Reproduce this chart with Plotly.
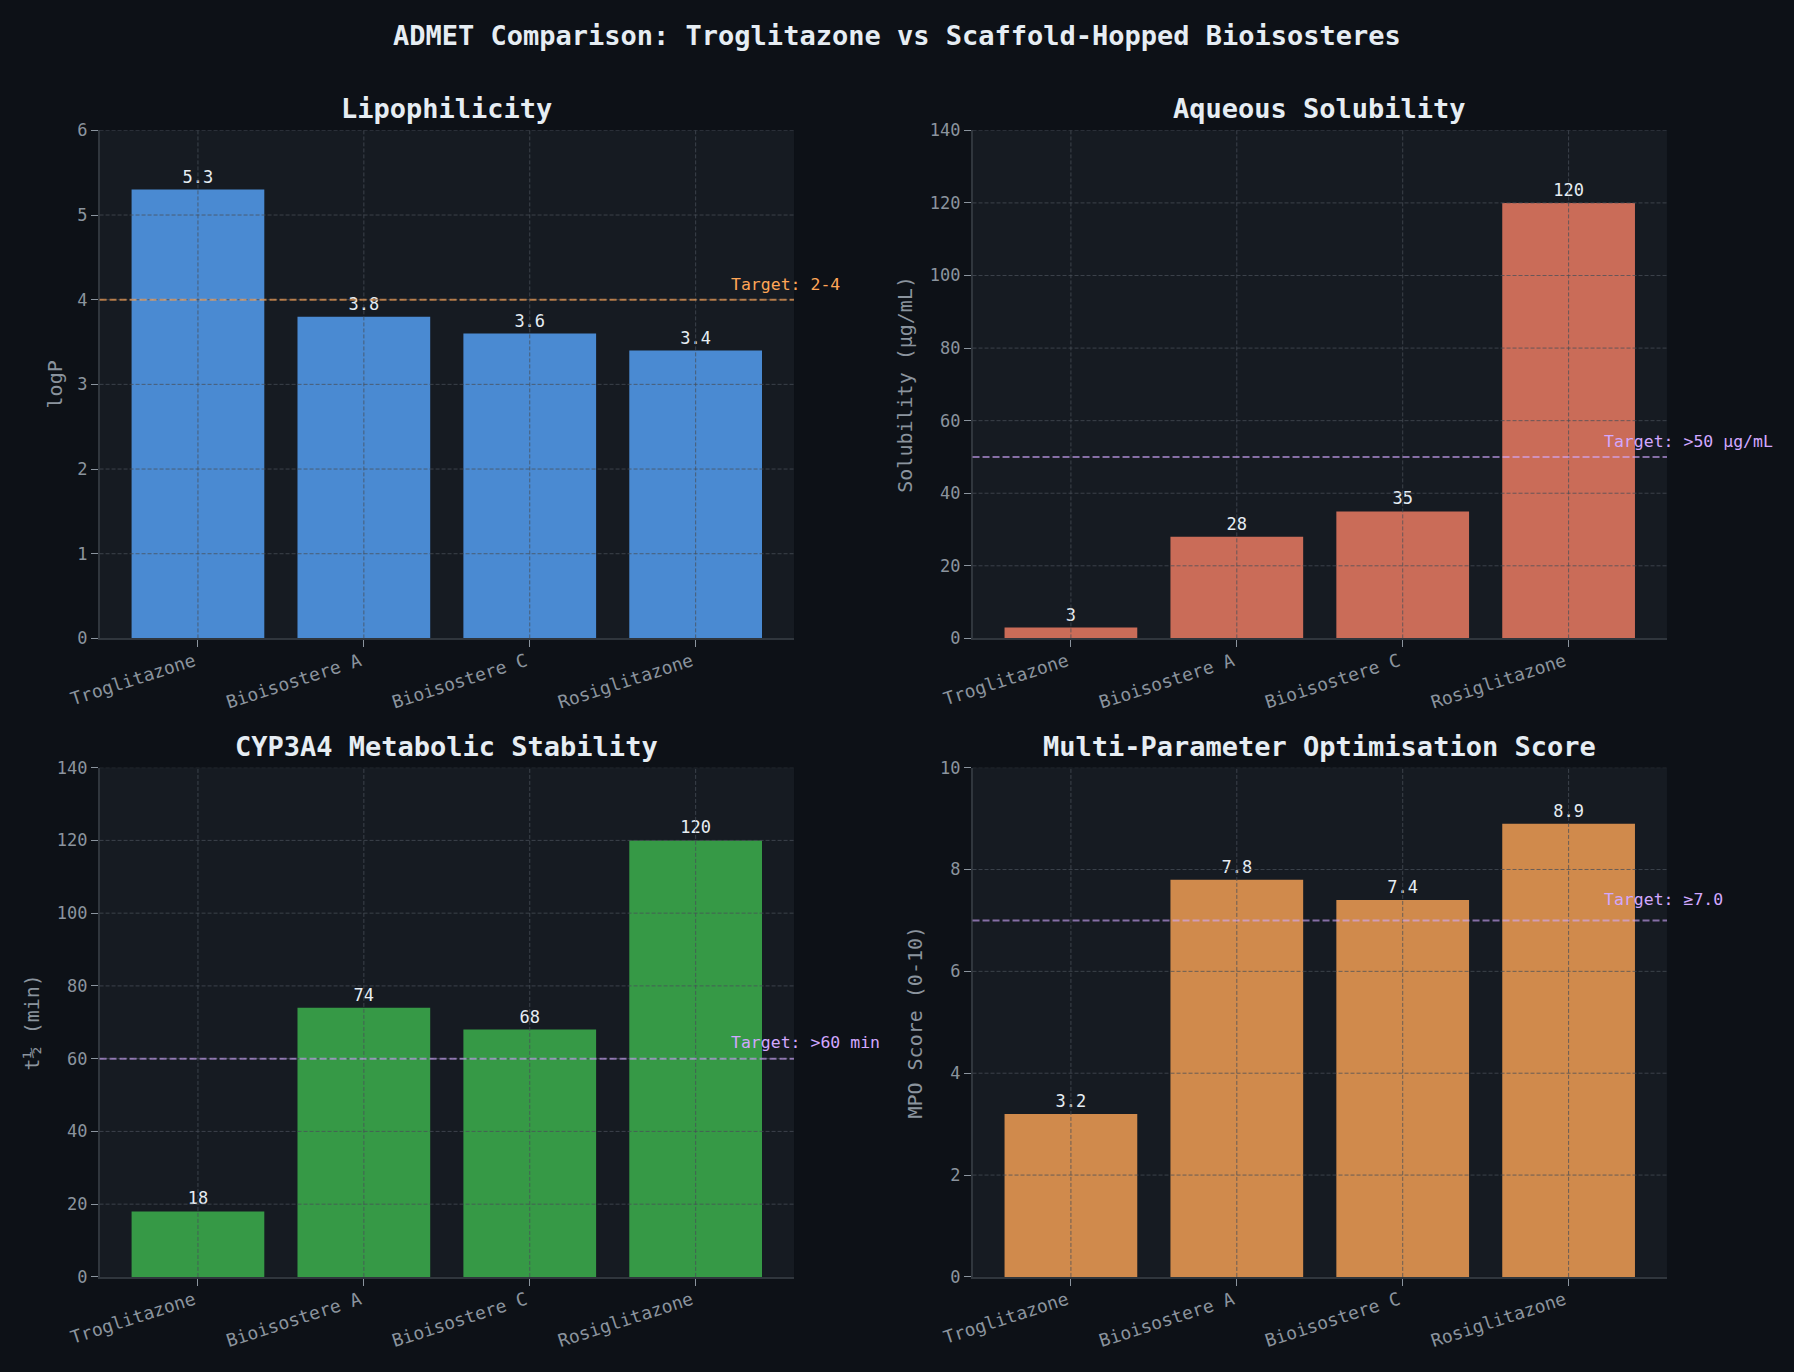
import plotly.graph_objects as go

# ---------------- data ----------------
compounds = ["Troglitazone", "Bioisostere A", "Bioisostere C", "Rosiglitazone"]
logp = [5.3, 3.8, 3.6, 3.4]
solubility = [3, 28, 35, 120]
half_life = [18, 74, 68, 120]
mpo = [3.2, 7.8, 7.4, 8.9]

main_title = "ADMET Comparison: Troglitazone vs Scaffold-Hopped Bioisosteres"
panel_titles = ["Lipophilicity", "Aqueous Solubility",
                "CYP3A4 Metabolic Stability", "Multi-Parameter Optimisation Score"]
y_titles = ["logP", "Solubility (µg/mL)", "t½ (min)", "MPO Score (0-10)"]
targets = [4, 50, 60, 7.0]
target_labels = ["Target: 2-4", "Target: >50 µg/mL", "Target: >60 min", "Target: ≥7.0"]
y_ticks = [[0, 1, 2, 3, 4, 5, 6],
           [0, 20, 40, 60, 80, 100, 120, 140],
           [0, 20, 40, 60, 80, 100, 120, 140],
           [0, 2, 4, 6, 8, 10]]
series = [logp, solubility, half_life, mpo]

# ---------------- style ----------------
FONT = "DejaVu Sans Mono"
PAPER = "#0d1117"
PANEL = "#161b22"
FG = "#e6edf3"
MUTED = "#8b949e"
SPINE = "#30363d"
GRID = "rgba(72,79,88,0.75)"
bar_colors = ["#58a6ff", "#f78166", "#3fb950", "#ffa657"]
target_line_colors = ["rgba(255,166,87,0.65)", "rgba(210,168,255,0.6)",
                      "rgba(210,168,255,0.6)", "rgba(210,168,255,0.6)"]
target_text_colors = ["#ffa657", "#d2a8ff", "#d2a8ff", "#d2a8ff"]
target_yshift = [15, 15, 16, 21]
y_title_standoff = [9, 12, 12, 12]

W, H = 1794, 1372
col_dom = [[0.0555, 0.4426], [0.5421, 0.9292]]
row_dom = [[0.5347, 0.9050], [0.0693, 0.4405]]
title_y = [1 - 108.7 / H, 1 - 746 / H]

fig = go.Figure()
shapes = []
annotations = []

for i in range(4):
    r, c = divmod(i, 2)
    n = i + 1
    xa = "x" if n == 1 else f"x{n}"
    ya = "y" if n == 1 else f"y{n}"
    vals = series[i]
    fig.add_trace(go.Bar(
        x=compounds, y=vals, xaxis=xa, yaxis=ya,
        width=0.8,
        marker=dict(color=bar_colors[i], opacity=0.8, line=dict(width=0)),
        text=[str(v) for v in vals], textposition="outside",
        textfont=dict(family=FONT, size=17, color=FG),
        constraintext="none", cliponaxis=False,
        hoverinfo="skip", showlegend=False,
    ))
    xkey = "xaxis" if n == 1 else f"xaxis{n}"
    ykey = "yaxis" if n == 1 else f"yaxis{n}"
    fig.layout[xkey] = dict(
        domain=col_dom[c], anchor=ya, type="category", automargin=False,
        range=[-0.593, 3.593], showgrid=False, zeroline=False,
        showline=True, linecolor=SPINE, linewidth=1.5,
        ticks="outside", ticklen=7, tickwidth=1, tickcolor=MUTED,
        tickangle=-18, tickfont=dict(family=FONT, size=18, color=MUTED),
        ticklabelshift=-4, ticklabelstandoff=-3,
        fixedrange=True,
    )
    fig.layout[ykey] = dict(
        domain=row_dom[r], anchor=xa, automargin=False,
        range=[y_ticks[i][0], y_ticks[i][-1]], tickvals=y_ticks[i],
        showgrid=False, zeroline=False,
        showline=True, linecolor=SPINE, linewidth=1.5,
        ticks="outside", ticklen=7, tickwidth=1, tickcolor=MUTED,
        tickfont=dict(family=FONT, size=17, color=MUTED),
        title=dict(text=y_titles[i], font=dict(family=FONT, size=20, color=MUTED),
                   standoff=y_title_standoff[i]),
        fixedrange=True,
    )
    # grid lines drawn above bars (dashed)
    for t in y_ticks[i][1:]:
        shapes.append(dict(type="line", xref=f"{xa} domain", yref=ya,
                           x0=0, x1=1, y0=t, y1=t, layer="above",
                           line=dict(color=GRID, width=1, dash="4px,2px")))
    for cat in compounds:
        shapes.append(dict(type="line", xref=xa, yref=f"{ya} domain",
                           x0=cat, x1=cat, y0=0, y1=1, layer="above",
                           line=dict(color=GRID, width=1, dash="4px,2px")))
    # target line
    shapes.append(dict(type="line", xref=f"{xa} domain", yref=ya,
                       x0=0, x1=1, y0=targets[i], y1=targets[i], layer="above",
                       line=dict(color=target_line_colors[i], width=2, dash="7px,3px")))
    annotations.append(dict(text=target_labels[i], xref=f"{xa} domain", yref=ya,
                            x=0.906, y=targets[i], xanchor="left", yanchor="middle",
                            yshift=target_yshift[i], showarrow=False,
                            font=dict(family=FONT, size=16.5, color=target_text_colors[i])))
    # panel title
    annotations.append(dict(text=f"<b>{panel_titles[i]}</b>", xref="paper", yref="paper",
                            x=sum(col_dom[c]) / 2, y=title_y[r],
                            xanchor="center", yanchor="middle", showarrow=False,
                            font=dict(family=FONT, size=27, color=FG)))

annotations.append(dict(text=f"<b>{main_title}</b>", xref="paper", yref="paper",
                        x=0.5, y=1 - 35.5 / H, xanchor="center", yanchor="middle",
                        showarrow=False, font=dict(family=FONT, size=27, color=FG)))

fig.update_layout(
    width=W, height=H,
    margin=dict(l=0, r=0, t=0, b=0, autoexpand=False),
    paper_bgcolor=PAPER, plot_bgcolor=PANEL,
    font=dict(family=FONT, color=MUTED),
    shapes=shapes, annotations=annotations,
    bargap=0.2, showlegend=False,
)

fig.write_html("out.html")
